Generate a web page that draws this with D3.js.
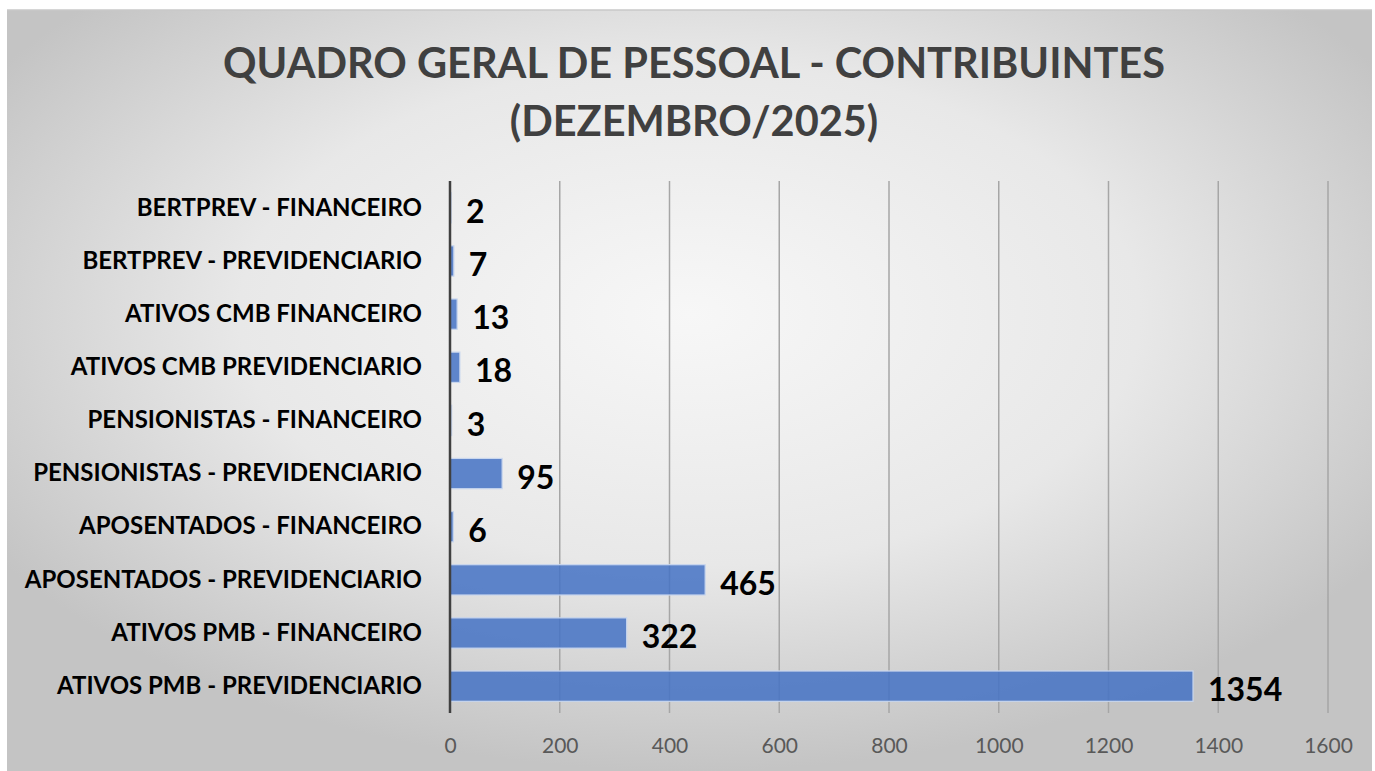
<!DOCTYPE html>
<html>
<head>
<meta charset="utf-8">
<script src="https://cdn.jsdelivr.net/npm/d3@7"></script>
<style>
    body { margin: 0; background: #ffffff; }
    svg { display: block; }
    text { font-family: Lato, 'Open Sans', sans-serif; }
</style>
</head>
<body>
<svg width="1375" height="771"></svg>
<script>
// Chart data, bottom to top as in the original
const categories = [
    'ATIVOS PMB - PREVIDENCIARIO',
    'ATIVOS PMB - FINANCEIRO',
    'APOSENTADOS - PREVIDENCIARIO',
    'APOSENTADOS - FINANCEIRO',
    'PENSIONISTAS - PREVIDENCIARIO',
    'PENSIONISTAS - FINANCEIRO',
    'ATIVOS CMB PREVIDENCIARIO',
    'ATIVOS CMB FINANCEIRO',
    'BERTPREV - PREVIDENCIARIO',
    'BERTPREV - FINANCEIRO'
];
const values = [1354, 322, 465, 6, 95, 3, 18, 13, 7, 2];
const xTicks = [0, 200, 400, 600, 800, 1000, 1200, 1400, 1600];
const titleLines = ['QUADRO GERAL DE PESSOAL - CONTRIBUINTES', '(DEZEMBRO/2025)'];

const svg = d3.select('svg');
const margin = {left: 450, right: 47, top: 181, bottom: 58};
const width = +svg.attr('width'), height = +svg.attr('height');

// Background with the radial grey fade
const defs = svg.append('defs');
const grad = defs.append('radialGradient')
    .attr('id', 'bg')
    .attr('cx', '50%').attr('cy', '40%')
    .attr('r', '60%');
grad.append('stop').attr('offset', '0%').attr('stop-color', '#f7f7f7');
grad.append('stop').attr('offset', '55%').attr('stop-color', '#e8e8e8');
grad.append('stop').attr('offset', '100%').attr('stop-color', '#c4c4c4');

svg.append('rect')
    .attr('x', 7).attr('y', 10)
    .attr('width', width - 10).attr('height', height - 10)
    .attr('fill', 'url(#bg)');
svg.append('line')
    .attr('x1', 7).attr('x2', width - 3)
    .attr('y1', 10).attr('y2', 10)
    .style('stroke', '#c8c8c8').style('stroke-width', 1.5);

// Title
svg.append('g').selectAll('text')
    .data(titleLines)
    .enter().append('text')
    .attr('x', 694)
    .attr('y', (d, i) => 78 + i * 58)
    .attr('text-anchor', 'middle')
    .style('font-size', '41.5px')
    .style('font-weight', 'bold')
    .style('fill', '#404040')
    .text(d => d);

// Scales
const x = d3.scaleLinear()
    .domain([0, 1600])
    .range([margin.left, width - margin.right]);

const y = d3.scaleBand()
    .domain(categories.slice().reverse())
    .range([margin.top, height - margin.bottom])
    .paddingInner(0.43)
    .paddingOuter(0.22);

// Vertical gridlines
svg.append('g')
    .selectAll('line')
    .data(xTicks.slice(1))
    .enter().append('line')
    .attr('x1', d => x(d)).attr('x2', d => x(d))
    .attr('y1', margin.top).attr('y2', height - margin.bottom)
    .style('stroke', '#a6a6a6')
    .style('stroke-width', 1.5);

// X axis tick labels
const xAxis = svg.append('g')
    .attr('transform', 'translate(0,' + (height - margin.bottom) + ')')
    .call(d3.axisBottom(x).tickValues(xTicks).tickFormat(d3.format('d'))
        .tickSize(0).tickPadding(25));
xAxis.select('.domain').remove();
xAxis.selectAll('text')
    .style('font-family', 'Lato, sans-serif')
    .style('font-size', '21px')
    .style('fill', '#595959');

// Bars
svg.append('g')
    .selectAll('rect')
    .data(values)
    .enter().append('rect')
    .attr('x', x(0))
    .attr('y', (d, i) => y(categories[i]))
    .attr('width', d => x(d) - x(0))
    .attr('height', y.bandwidth())
    .style('fill', '#4472c4')
    .style('fill-opacity', 0.85)
    .style('stroke', '#c9d7ee')
    .style('stroke-width', 1.2);

// Value labels
svg.append('g')
    .selectAll('text')
    .data(values)
    .enter().append('text')
    .attr('x', d => x(d) + 15)
    .attr('y', (d, i) => y(categories[i]) + y.bandwidth() / 2 + 4)
    .attr('dy', '0.35em')
    .style('font-size', '32px')
    .style('font-weight', 'bold')
    .style('fill', '#000000')
    .text(d => d);

// Category labels
const yAxis = svg.append('g')
    .attr('transform', 'translate(' + margin.left + ',0)')
    .call(d3.axisLeft(y).tickSize(0).tickPadding(28));
yAxis.select('.domain').remove();
yAxis.selectAll('text')
    .style('font-family', 'Lato, sans-serif')
    .style('font-size', '24px')
    .style('font-weight', 'bold')
    .style('fill', '#000000');

// Zero axis line
svg.append('line')
    .attr('x1', x(0)).attr('x2', x(0))
    .attr('y1', margin.top).attr('y2', height - margin.bottom)
    .style('stroke', '#404040')
    .style('stroke-width', 2.5);
</script>
</body>
</html>
